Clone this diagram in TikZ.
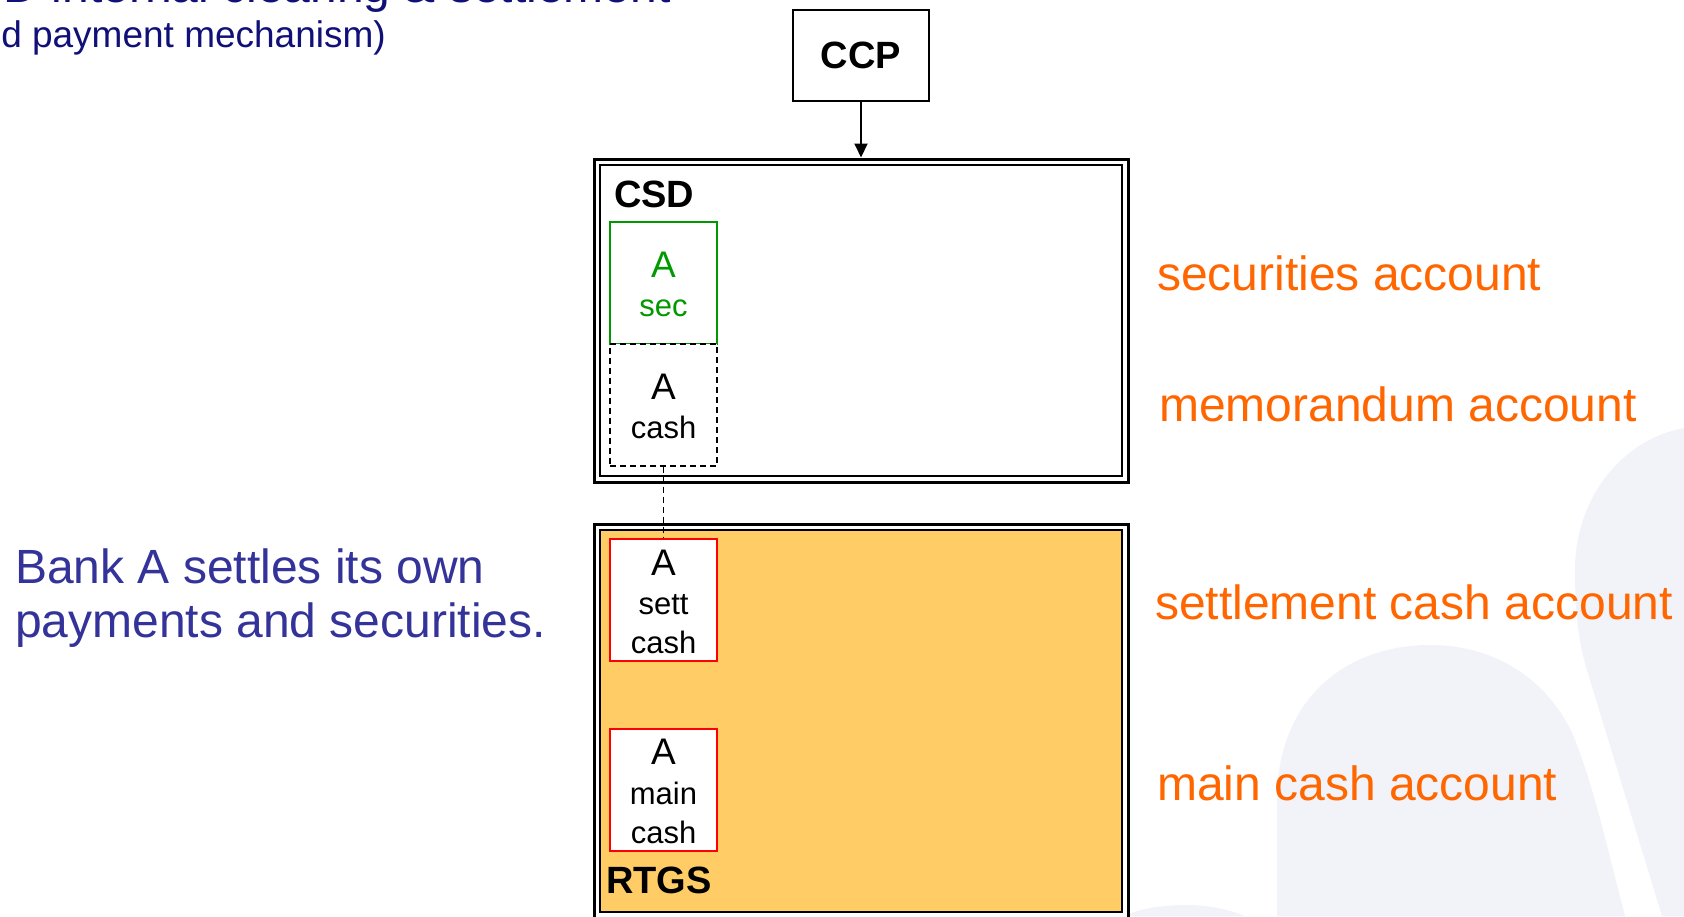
\documentclass[tikz,border=0pt]{standalone}
\usepackage{fontspec}
\setmainfont{Liberation Sans}
\usetikzlibrary{arrows.meta}
\definecolor{navy}{RGB}{16,16,120}
\definecolor{bluetxt}{RGB}{51,51,153}
\definecolor{orangetxt}{RGB}{255,102,0}
\definecolor{greenacc}{RGB}{0,153,0}
\definecolor{redacc}{RGB}{255,0,0}
\definecolor{rtgsfill}{RGB}{255,204,102}
\definecolor{wm}{RGB}{241,243,248}
\begin{document}
\begin{tikzpicture}[x=1pt,y=-1pt,
  boldlbl/.style={font=\fontsize{38}{42}\selectfont\bfseries, anchor=base west, inner sep=0},
  letterA/.style={font=\fontsize{37}{40}\selectfont, anchor=base, inner sep=0},
  subtxt/.style={font=\fontsize{31}{36}\selectfont, anchor=base, inner sep=0},
  sidetxt/.style={font=\fontsize{48}{56}\selectfont, text=orangetxt, anchor=base west, inner sep=0},
  bluetext/.style={font=\fontsize{48}{56}\selectfont, text=bluetxt, anchor=base west, inner sep=0},
  navytext/.style={text=navy, anchor=base east, inner sep=0},
  acct/.style={draw, line width=2pt, fill=white, minimum width=107pt, minimum height=122pt, inner sep=0},
  outerframe/.style={draw, line width=3pt, minimum width=534pt, inner sep=0},
  innerframe/.style={draw, line width=2pt, minimum width=522pt, inner sep=0}
]
\useasboundingbox (0,0) rectangle (1684,916);
\clip (0,0) rectangle (1684,916);
\fill[white] (0,0) rectangle (1684,916);

% faint watermark shapes
\fill[wm] (1277,916) -- (1277,800) .. controls (1277,700) and (1345,645) .. (1430,645)
  .. controls (1505,645) and (1555,690) .. (1575,740)
  .. controls (1595,790) and (1610,860) .. (1625,916) -- cycle;
\fill[wm] (1684,428) .. controls (1620,440) and (1575,500) .. (1575,570)
  .. controls (1575,620) and (1580,650) .. (1590,680) -- (1662,916) -- (1684,916) -- cycle;
\fill[wm] (1125,916) .. controls (1140,908) and (1165,905) .. (1185,905)
  .. controls (1210,905) and (1230,910) .. (1245,916) -- cycle;

% top-left title remnants
\node[navytext, font=\fontsize{48}{56}\selectfont] (title1) at (671,2) {D internal clearing \& settlement};
\node[navytext, font=\fontsize{37}{44}\selectfont] (title2) at (386,47) {d payment mechanism)};

% CCP
\node[draw, line width=2pt, minimum width=136pt, minimum height=91pt, inner sep=0,
      font=\fontsize{38}{42}\selectfont\bfseries] (ccp) at (861,55.5) {CCP};

% CSD frame
\node[outerframe, minimum height=323pt] (csdout) at (861,320.5) {};
\node[innerframe, minimum height=311pt] (csdin) at (861,320.5) {};
\node[boldlbl] (csdlbl) at (614,207) {CSD};

% RTGS frame
\node[outerframe, minimum height=394pt] (rtgsout) at (861,721) {};
\node[innerframe, minimum height=382pt, fill=rtgsfill] (rtgsin) at (861,721) {};
\node[boldlbl] (rtgslbl) at (606,893) {RTGS};

% accounts
\node[acct, draw=greenacc] (sec) at (663.5,282.5) {};
\node[acct, dashed, dash pattern=on 6pt off 4pt] (memo) at (663.5,404.5) {};
\node[acct, draw=redacc] (sett) at (663.5,600) {};
\node[acct, draw=redacc] (main) at (663.5,790) {};

\node[letterA, text=greenacc] (secA) at (663.5,277) {A};
\node[subtxt, text=greenacc] (secT) at (663.5,316) {sec};
\node[letterA] (memoA) at (663.5,399) {A};
\node[subtxt] (memoT) at (663.5,438) {cash};
\node[letterA] (settA) at (663.5,575) {A};
\node[subtxt] (settT1) at (663.5,614) {sett};
\node[subtxt] (settT2) at (663.5,653) {cash};
\node[letterA] (mainA) at (663.5,764) {A};
\node[subtxt] (mainT1) at (663.5,804) {main};
\node[subtxt] (mainT2) at (663.5,843) {cash};

% connectors
\draw[line width=2pt, -{Triangle[length=14pt,width=13pt]}] (ccp.south) -- (csdout.north);
\draw[line width=1.8pt, dashed, dash pattern=on 6pt off 4pt] (memo.south) -- (sett.north);

% side labels
\node[sidetxt] (lsec) at (1157,290) {securities account};
\node[sidetxt] (lmemo) at (1159,421) {memorandum account};
\node[sidetxt] (lsett) at (1155,619) {settlement cash account};
\node[sidetxt] (lmain) at (1157,800) {main cash account};

% left note
\node[bluetext] (note1) at (15,583) {Bank A settles its own};
\node[bluetext] (note2) at (15,637) {payments and securities.};
\end{tikzpicture}
\end{document}
